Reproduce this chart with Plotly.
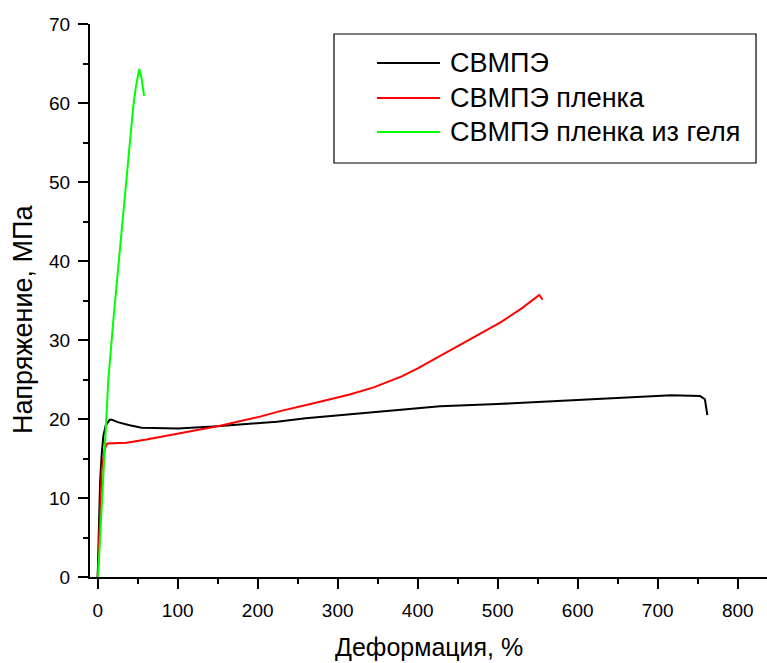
import plotly.graph_objects as go

# --- data ---
names = ["СВМПЭ", "СВМПЭ пленка", "СВМПЭ пленка из геля"]
colors = ["#000000", "#ff0000", "#00ff00"]

x_black = [0, 1, 3, 5, 7, 10, 15, 18, 25, 40, 55, 100, 145, 203, 224, 260, 315, 360, 428,
           500, 600, 690, 717, 753, 759, 762]
y_black = [0, 4, 12, 15.5, 17.8, 19.2, 19.9, 19.9, 19.6, 19.2, 18.9, 18.8, 19.05, 19.5, 19.65,
           20.1, 20.6, 21.0, 21.6, 21.9, 22.4, 22.85, 23.0, 22.9, 22.5, 20.5]

x_red = [0, 1, 5, 9, 12, 36, 61, 103, 153, 203, 228, 270, 315, 345, 380, 400, 450, 503, 530,
         552, 556]
y_red = [0, 2.2, 13.6, 16.3, 16.9, 17.0, 17.4, 18.2, 19.15, 20.3, 21.0, 22.0, 23.1, 24.0,
         25.4, 26.4, 29.2, 32.2, 34.0, 35.7, 35.1]

x_green = [0.5, 3, 6, 10.8, 13.3, 20, 28, 35.4, 40, 44.5, 48, 52, 55, 58]
y_green = [0, 5, 11, 19.9, 25, 33, 42, 50.3, 55.5, 59.6, 62.2, 64.3, 63.0, 60.9]

series = [(x_black, y_black), (x_red, y_red), (x_green, y_green)]

x_tickvals = [0, 100, 200, 300, 400, 500, 600, 700, 800]
y_tickvals = [0, 10, 20, 30, 40, 50, 60, 70]

x_title = "Деформация, %"
y_title = "Напряжение, МПа"

FONT = "Liberation Sans, Arial, sans-serif"

fig = go.Figure()
for (xs, ys), n, c in zip(series, names, colors):
    fig.add_trace(go.Scatter(x=xs, y=ys, mode="lines", name=n,
                             line=dict(color=c, width=2), showlegend=False))

# manual legend box (paper coordinates)
shapes = [dict(type="rect", xref="paper", yref="paper", x0=0.3604, x1=0.9838,
               y0=0.7486, y1=0.9819, line=dict(color="black", width=1.2),
               fillcolor="rgba(0,0,0,0)")]
annotations = []
row_y = [0.9295, 0.8662, 0.8047]
for n, c, yy in zip(names, colors, row_y):
    shapes.append(dict(type="line", xref="paper", yref="paper", x0=0.4239, x1=0.517,
                       y0=yy, y1=yy, line=dict(color=c, width=2)))
    annotations.append(dict(xref="paper", yref="paper", x=0.5288, y=yy, text=n,
                            showarrow=False, xanchor="left", yanchor="middle",
                            font=dict(family=FONT, size=27, color="black")))

# axis titles
annotations.append(dict(xref="paper", yref="paper", x=0.5, y=0, yshift=-70,
                        text=x_title, showarrow=False, xanchor="center", yanchor="middle",
                        font=dict(family=FONT, size=25, color="black")))
annotations.append(dict(xref="paper", yref="paper", x=0, y=0.4647, xshift=-67,
                        text=y_title, showarrow=False, xanchor="center", yanchor="middle",
                        textangle=-90, font=dict(family=FONT, size=27, color="black")))

fig.update_layout(
    width=767, height=663,
    margin=dict(l=90, r=0, t=24, b=86),
    paper_bgcolor="white", plot_bgcolor="white",
    font=dict(family=FONT, color="black"),
    shapes=shapes, annotations=annotations,
)
fig.update_xaxes(
    range=[-9.6, 836.6], showgrid=False, zeroline=False,
    showline=True, linecolor="black", linewidth=2,
    ticks="outside", ticklen=10, tickwidth=2, tickcolor="black",
    tickvals=x_tickvals, tickfont=dict(size=19, family=FONT), ticklabelstandoff=5,
    minor=dict(ticks="outside", ticklen=5, tickwidth=2, tickcolor="black", dtick=50, tick0=0),
)
fig.update_yaxes(
    range=[0, 70], showgrid=False, zeroline=False,
    showline=True, linecolor="black", linewidth=2,
    ticks="outside", ticklen=10, tickwidth=2, tickcolor="black",
    tickvals=y_tickvals, tickfont=dict(size=19, family=FONT), ticklabelstandoff=4,
    minor=dict(ticks="outside", ticklen=5, tickwidth=2, tickcolor="black", dtick=5, tick0=0),
)

fig.write_html("out.html", config={"displayModeBar": False},
               post_script="document.body.style.margin='0';")
